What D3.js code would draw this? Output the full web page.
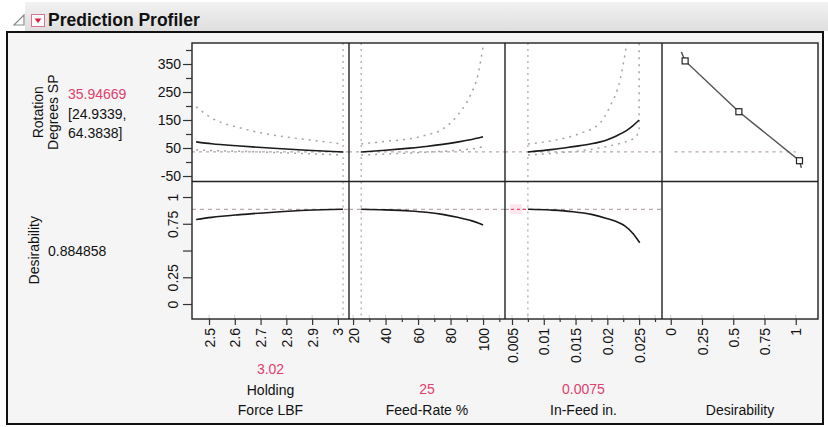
<!DOCTYPE html>
<html><head><meta charset="utf-8">
<script src="https://cdn.jsdelivr.net/npm/d3@7"></script>
<style>
html,body{margin:0;padding:0;background:#fff;}
svg{display:block;font-family:"Liberation Sans",Arial,sans-serif;}
</style></head><body>
<svg id="c" width="828" height="427"></svg>
<script>
// ---------- DATA ----------
const title = "Prediction Profiler";
const responseLabel = ["Rotation", "Degrees SP"];
const responseValue = 35.94669;
const responseCI = [24.9339, 64.3838];
const desirabilityLabel = "Desirability";
const desirabilityValue = 0.884858;

const factorNames = [["Holding", "Force LBF"], ["Feed-Rate %"], ["In-Feed in."], ["Desirability"]];
const factorCurrent = [3.02, 25, 0.0075];
const factorCurrentText = ["3.02", "25", "0.0075"];

// Holding Force
const hfX     = [2.45, 2.51, 2.62, 2.75, 2.88, 3.02];
const hfPred  = [72, 65, 57, 49, 42, 35.95];
const hfUpper = [197, 157, 122, 96, 80, 64.38];
const hfLower = [43, 41, 38, 34, 30, 24.93];
const hfDes   = [0.79, 0.81, 0.835, 0.858, 0.876, 0.885];

// Feed-Rate
const frX     = [25, 40, 55, 65, 75, 85, 92, 97, 100];
const frPred  = [35.95, 42, 49.5, 55.5, 63, 72, 79.5, 85.5, 90];
const frUpper = [64.38, 74, 83, 96, 117, 172, 236, 315, 412];
const frLower = [24.93, 28.5, 32, 35, 38, 42, 46, 50, 55];
const frDes   = [0.885, 0.880, 0.870, 0.858, 0.838, 0.808, 0.782, 0.758, 0.738];

// In-Feed
const ifX     = [0.0075, 0.0115, 0.0146, 0.0175, 0.0199, 0.0215, 0.023, 0.024, 0.025];
const ifPred  = [35.95, 45, 55, 65, 79, 94, 112, 129, 150];
const ifUpperX = [0.0075, 0.012, 0.0157, 0.0188, 0.0204, 0.022, 0.0228, 0.0231];
const ifUpper  = [64.38, 79, 102, 138, 198, 293, 388, 430];
const ifLowerX = [0.0075, 0.011, 0.0146, 0.0175, 0.0199, 0.022, 0.0235, 0.0245, 0.025, 0.025];
const ifLower  = [24.93, 30, 37, 45, 55, 66, 76, 88, 110, 430];
const ifDesX  = [0.0075, 0.011, 0.0146, 0.0175, 0.0199, 0.0215, 0.0228, 0.0241, 0.0251];
const ifDes   = [0.885, 0.878, 0.863, 0.838, 0.80, 0.768, 0.728, 0.655, 0.573];

// Desirability function (response vs desirability)
const desLineD = [0.085, 0.115, 0.545, 1.03, 1.045];
const desLineV = [393, 361, 179.6, 4.6, -21];
const desHandleD = [0.115, 0.545, 1.03];
const desHandleV = [361, 179.6, 4.6];
const desCrossD = [0.03, 1.0];

// Ticks
const hfTicks = [2.5, 2.6, 2.7, 2.8, 2.9, 3];
const frTicks = [20, 40, 60, 80, 100];
const frMinor = [30, 50, 70, 90, 110];
const ifTicks = [0.005, 0.01, 0.015, 0.02, 0.025];
const ifMinor = [0.0075, 0.0125, 0.0175, 0.0225, 0.0275];
const dTicks  = [0, 0.25, 0.5, 0.75, 1];
const yTopTicks = [-50, 50, 150, 250, 350];
const yTopMinor = [0, 100, 200, 300, 400];
const yBotTicks = [0, 0.25, 0.5, 0.75, 1];
const yBotLabels = ["0", "0.25", "", "0.75", "1"];

// ---------- LAYOUT ----------
const colEdges = [192, 349, 505, 662, 818];
const rowTop = 43, rowMid = 181.5, rowBot = 319;
const FS = 14;
const red = "#e0406e";
const crossCol = "#b9a7ad";
const ciCol = "#a4a4a4";

const svg = d3.select("#c");
const defs = svg.append("defs");
const tg = defs.append("linearGradient").attr("id","tg").attr("x1",0).attr("x2",0).attr("y1",0).attr("y2",1);
tg.append("stop").attr("offset","0%").attr("stop-color","#f2f2f2");
tg.append("stop").attr("offset","100%").attr("stop-color","#dedede");

// title bar
svg.append("rect").attr("x",25).attr("y",2).attr("width",803).attr("height",29).attr("fill","url(#tg)");
svg.append("path").attr("d","M24,15 L24,25 L14,25 Z").attr("fill","none").attr("stroke","#8a8a8a").attr("stroke-width",1.2);
svg.append("rect").attr("x",31.5).attr("y",14.5).attr("width",13).attr("height",12).attr("fill","#fff").attr("stroke","#e07090").attr("stroke-width",1);
svg.append("path").attr("d","M34.5,18.5 L41.5,18.5 L38,23 Z").attr("fill","#d8203f");
svg.append("text").attr("x",48).attr("y",26).attr("font-size",17.5).attr("font-weight","bold").attr("fill","#111").text(title);

// frame
svg.append("rect").attr("x",7).attr("y",32).attr("width",816).attr("height",392)
  .attr("fill","#f5f5f5").attr("stroke","#111").attr("stroke-width",2);

// scales
const xS = [
  d3.scaleLinear().domain([2.434, 3.043]).range([colEdges[0], colEdges[1]]),
  d3.scaleLinear().domain([17.5, 113.5]).range([colEdges[1], colEdges[2]]),
  d3.scaleLinear().domain([0.0039, 0.0286]).range([colEdges[2], colEdges[3]]),
  d3.scaleLinear().domain([-0.07, 1.178]).range([colEdges[3], colEdges[4]])
];
const yTop = d3.scaleLinear().domain([-69.6, 425]).range([rowMid, rowTop]);
const yBot = d3.scaleLinear().domain([-0.14, 1.145]).range([rowBot, rowMid]);

// panels
svg.append("rect").attr("x",colEdges[0]).attr("y",rowTop).attr("width",colEdges[4]-colEdges[0]).attr("height",rowBot-rowTop).attr("fill","#fff");

// clip paths
for (let c = 0; c < 4; c++) {
  [[rowTop,rowMid,"t"],[rowMid,rowBot,"b"]].forEach(([a,b,k]) => {
    defs.append("clipPath").attr("id",`cp${c}${k}`).append("rect")
      .attr("x",colEdges[c]).attr("y",a).attr("width",colEdges[c+1]-colEdges[c]).attr("height",b-a);
  });
}

// inner faint ticks at bottom
const innerTicks = [hfTicks, frTicks.concat(frMinor), ifTicks.concat(ifMinor), dTicks];
innerTicks.forEach((tks, c) => {
  svg.append("g").attr("clip-path",`url(#cp${c}b)`).selectAll("line").data(tks).join("line")
    .attr("x1",d=>xS[c](d)).attr("x2",d=>xS[c](d)).attr("y1",rowBot).attr("y2",rowBot-4)
    .attr("stroke","#ccc").attr("stroke-width",1);
});

function lineT(c, k, xs, ys, yScale, opts) {
  const pts = xs.map((x,i)=>[x, ys[i]]);
  const gen = d3.line().x(d=>xS[c](d[0])).y(d=>yScale(d[1])).curve(opts.curve || d3.curveMonotoneX);
  svg.append("path").attr("clip-path",`url(#cp${c}${k})`).attr("d",gen(pts))
    .attr("fill","none").attr("stroke",opts.color).attr("stroke-width",opts.w)
    .attr("stroke-dasharray",opts.dash || null).attr("stroke-linecap", opts.cap || "butt");
}

// crosshairs
for (let c = 0; c < 3; c++) {
  const x = xS[c](factorCurrent[c]);
  ["t","b"].forEach(k => {
    svg.append("line").attr("clip-path",`url(#cp${c}${k})`)
      .attr("x1",x).attr("x2",x).attr("y1",k==="t"?rowTop:rowMid).attr("y2",k==="t"?rowMid:rowBot)
      .attr("stroke",crossCol).attr("stroke-width",1.3).attr("stroke-dasharray","2,4");
  });
  svg.append("line").attr("clip-path",`url(#cp${c}t)`)
    .attr("x1",colEdges[c]).attr("x2",colEdges[c+1]).attr("y1",yTop(responseValue)).attr("y2",yTop(responseValue))
    .attr("stroke",crossCol).attr("stroke-width",1.3).attr("stroke-dasharray","3,4");
  svg.append("line").attr("clip-path",`url(#cp${c}b)`)
    .attr("x1",colEdges[c]).attr("x2",colEdges[c+1]).attr("y1",yBot(desirabilityValue)).attr("y2",yBot(desirabilityValue))
    .attr("stroke",crossCol).attr("stroke-width",1.3).attr("stroke-dasharray","4,4");
}
// small pink marker on In-Feed desirability crosshair
svg.append("rect").attr("x",colEdges[2]+5).attr("y",yBot(desirabilityValue)-5).attr("width",12).attr("height",10).attr("fill","#fbe6eb");
svg.append("line").attr("x1",colEdges[2]+6).attr("x2",xS[2](factorCurrent[2])).attr("y1",yBot(desirabilityValue)).attr("y2",yBot(desirabilityValue))
  .attr("stroke","#e05070").attr("stroke-width",1.3).attr("stroke-dasharray","3,3");

// desirability panel crosshair
svg.append("line").attr("x1",xS[3](desCrossD[0])).attr("x2",xS[3](desCrossD[1]))
  .attr("y1",yTop(responseValue)).attr("y2",yTop(responseValue))
  .attr("stroke",crossCol).attr("stroke-width",1.3).attr("stroke-dasharray","3,4");

// CI curves
lineT(0,"t",hfX,hfUpper,yTop,{color:ciCol,w:1.5,dash:"2,5"});
lineT(0,"t",hfX,hfLower,yTop,{color:ciCol,w:1.5,dash:"2,5"});
lineT(1,"t",frX,frUpper,yTop,{color:ciCol,w:1.5,dash:"2,5"});
lineT(1,"t",frX,frLower,yTop,{color:ciCol,w:1.5,dash:"2,5"});
lineT(2,"t",ifUpperX,ifUpper,yTop,{color:ciCol,w:1.5,dash:"2,5"});
lineT(2,"t",ifLowerX,ifLower,yTop,{color:ciCol,w:1.5,dash:"2,5",curve:d3.curveLinear});

// prediction curves
lineT(0,"t",hfX,hfPred,yTop,{color:"#1a1a1a",w:1.6});
lineT(1,"t",frX,frPred,yTop,{color:"#1a1a1a",w:1.6});
lineT(2,"t",ifX,ifPred,yTop,{color:"#1a1a1a",w:1.6});
lineT(0,"b",hfX,hfDes,yBot,{color:"#1a1a1a",w:1.6});
lineT(1,"b",frX,frDes,yBot,{color:"#1a1a1a",w:1.6});
lineT(2,"b",ifDesX,ifDes,yBot,{color:"#1a1a1a",w:1.6});

// desirability function
lineT(3,"t",desLineD,desLineV,yTop,{color:"#555",w:1.5,curve:d3.curveLinear});
svg.append("g").selectAll("rect").data(desHandleD).join("rect")
  .attr("x",(d)=>xS[3](d)-3).attr("y",(d,i)=>yTop(desHandleV[i])-3).attr("width",6).attr("height",6)
  .attr("fill","#fff").attr("stroke","#222").attr("stroke-width",1.2);

// panel borders
const border = svg.append("g").attr("stroke","#222").attr("stroke-width",1.4).attr("fill","none");
border.append("rect").attr("x",colEdges[0]).attr("y",rowTop).attr("width",colEdges[4]-colEdges[0]).attr("height",rowBot-rowTop);
colEdges.slice(1,4).forEach(x => border.append("line").attr("x1",x).attr("x2",x).attr("y1",rowTop).attr("y2",rowBot));
border.append("line").attr("x1",colEdges[0]).attr("x2",colEdges[4]).attr("y1",rowMid).attr("y2",rowMid);

// ---------- AXES ----------
function styleAxis(g) {
  g.select(".domain").remove();
  g.selectAll(".tick line").attr("stroke","#333").attr("stroke-width",1.2);
  g.selectAll(".tick text").attr("font-size",FS).attr("font-family","Liberation Sans, Arial, sans-serif").attr("fill","#111");
}
// y top
const gyt = svg.append("g").attr("transform",`translate(${colEdges[0]},0)`)
  .call(d3.axisLeft(yTop).tickValues(yTopTicks).tickSize(9).tickPadding(2).tickFormat(d=>String(d)));
styleAxis(gyt);
const gytm = svg.append("g").attr("transform",`translate(${colEdges[0]},0)`)
  .call(d3.axisLeft(yTop).tickValues(yTopMinor).tickSize(6).tickFormat(""));
styleAxis(gytm);
// y bottom
const gyb = svg.append("g").attr("transform",`translate(${colEdges[0]},0)`)
  .call(d3.axisLeft(yBot).tickValues(yBotTicks).tickSize(9).tickFormat((d,i)=>yBotLabels[i]));
styleAxis(gyb);
gyb.selectAll(".tick text").attr("transform","rotate(-90)").attr("text-anchor","middle")
  .attr("x",0).attr("y",-14).attr("dy",0);

// x axes
const xTickSets = [
  [hfTicks, null, d=>String(d)],
  [frTicks, frMinor, d=>String(d)],
  [ifTicks, ifMinor, d=>String(+d.toFixed(3))],
  [dTicks, null, d=>String(d)]
];
xTickSets.forEach(([maj, min, fmt], c) => {
  const g = svg.append("g").attr("transform",`translate(0,${rowBot})`)
    .call(d3.axisBottom(xS[c]).tickValues(maj).tickSize(6).tickFormat(fmt));
  styleAxis(g);
  g.selectAll(".tick text").attr("transform","rotate(-90)").attr("text-anchor","end")
    .attr("x",-9).attr("y",0).attr("dy","0.36em");
  if (min) {
    const gm = svg.append("g").attr("transform",`translate(0,${rowBot})`)
      .call(d3.axisBottom(xS[c]).tickValues(min).tickSize(3).tickFormat(""));
    styleAxis(gm);
  }
});

// ---------- LABELS ----------
const lab = svg.append("g").attr("font-size",FS).attr("fill","#111");
[43, 58].forEach((bx, i) => {
  lab.append("text").attr("transform",`translate(${bx},${(rowTop+rowMid)/2}) rotate(-90)`)
    .attr("text-anchor","middle").text(responseLabel[i]);
});
lab.append("text").attr("x",68).attr("y",99).attr("fill",red).text(responseValue.toFixed(5));
lab.append("text").attr("x",68).attr("y",118.5).text(`[${responseCI[0]},`);
lab.append("text").attr("x",68).attr("y",138).text(`${responseCI[1]}]`);
lab.append("text").attr("transform",`translate(39,${(rowMid+rowBot)/2}) rotate(-90)`)
  .attr("text-anchor","middle").text(desirabilityLabel);
lab.append("text").attr("x",48).attr("y",256).text(String(desirabilityValue));

factorNames.forEach((lines, c) => {
  const cx = (colEdges[c] + colEdges[c+1]) / 2;
  const n = lines.length;
  lines.forEach((t, i) => {
    lab.append("text").attr("x",cx).attr("y",415 - (n-1-i)*20).attr("text-anchor","middle").text(t);
  });
  if (c < 3) {
    lab.append("text").attr("x",cx).attr("y",415 - n*20 - 1).attr("text-anchor","middle").attr("fill",red).text(factorCurrentText[c]);
  }
});
</script>
</body></html>
